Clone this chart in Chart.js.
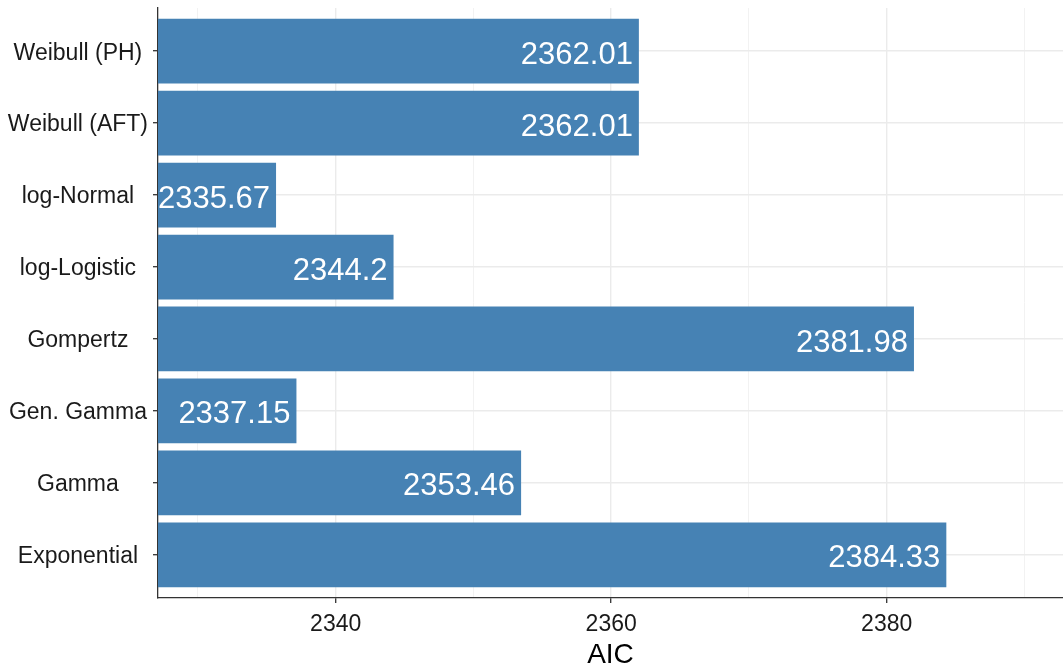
<!DOCTYPE html>
<html>
<head>
<meta charset="utf-8">
<script src="https://cdn.jsdelivr.net/npm/chart.js@4.4.1/dist/chart.umd.min.js"></script>
<style>
  html, body { margin: 0; padding: 0; background: #fff; }
  #wrap { width: 1063px; height: 670px; }
</style>
</head>
<body>
<div id="wrap"><canvas id="aicChart" width="1063" height="670"></canvas></div>
<script>
// modelos de arriba hacia abajo, tal como aparecen
const models = ['Weibull (PH)', 'Weibull (AFT)', 'log-Normal', 'log-Logistic', 'Gompertz', 'Gen. Gamma', 'Gamma', 'Exponential'];
const aic = [2362.01, 2362.01, 2335.67, 2344.2, 2381.98, 2337.15, 2353.46, 2384.33];
const xTicks = [2330, 2340, 2350, 2360, 2370, 2380, 2390];
const xLabelled = [2340, 2360, 2380];

const FONT = '"Liberation Sans", Arial, sans-serif';
const isMajor = v => xLabelled.includes(v);

// etiquetas blancas dentro de cada barra
const barLabels = {
    id: 'barLabels',
    afterDatasetsDraw(chart) {
        const ctx = chart.ctx;
        const meta = chart.getDatasetMeta(0);
        ctx.save();
        ctx.font = '31px ' + FONT;
        ctx.fillStyle = '#ffffff';
        ctx.textAlign = 'right';
        ctx.textBaseline = 'middle';
        meta.data.forEach((bar, i) => {
            ctx.fillText(String(aic[i]), bar.x - 6, bar.y + 4);
        });
        ctx.restore();
    }
};

new Chart(document.getElementById('aicChart').getContext('2d'), {
    type: 'bar',
    data: {
        datasets: [{
            data: aic.map((v, i) => ({ x: v, y: models.length - i })),
            backgroundColor: '#4682B4',
            borderWidth: 0,
            barPercentage: 0.9,
            categoryPercentage: 1.0
        }]
    },
    options: {
        indexAxis: 'y',
        responsive: false,
        animation: false,
        layout: { padding: { top: 8, right: 0, left: 0, bottom: 0 } },
        plugins: {
            legend: { display: false },
            tooltip: { enabled: false }
        },
        scales: {
            x: {
                type: 'linear',
                min: 2327.1,
                max: 2392.8,
                afterBuildTicks: s => { s.ticks = xTicks.map(v => ({ value: v })); },
                afterFit: s => { s.height = 72; s.paddingLeft = 0; s.paddingRight = 0; },
                border: { color: '#333333', width: 1.3 },
                grid: {
                    color: c => (c.tick && isMajor(c.tick.value)) ? '#ebebeb' : '#f2f2f2',
                    lineWidth: c => (c.tick && isMajor(c.tick.value)) ? 1.4 : 1,
                    tickColor: c => (c.tick && isMajor(c.tick.value)) ? '#333333' : 'rgba(0,0,0,0)',
                    tickLength: 5,
                    tickWidth: 1.3
                },
                ticks: {
                    autoSkip: false,
                    maxRotation: 0,
                    padding: 8,
                    color: '#1a1a1a',
                    font: { family: FONT, size: 23 },
                    callback: v => isMajor(v) ? String(v) : ''
                },
                title: {
                    display: true,
                    text: 'AIC',
                    color: '#000000',
                    font: { family: FONT, size: 28 },
                    padding: { top: 0, bottom: -2 }
                }
            },
            y: {
                type: 'linear',
                min: 0.4,
                max: models.length + 0.6,
                offset: false,
                afterBuildTicks: s => { s.ticks = models.map((m, i) => ({ value: i + 1 })); },
                afterFit: s => { s.width = 158; s.paddingTop = 0; s.paddingBottom = 0; },
                border: { color: '#333333', width: 1.3 },
                grid: {
                    offset: false,
                    color: '#ebebeb',
                    lineWidth: 1.4,
                    tickColor: '#333333',
                    tickLength: 5,
                    tickWidth: 1.3
                },
                ticks: {
                    autoSkip: false,
                    crossAlign: 'center',
                    padding: 5,
                    labelOffset: 2,
                    color: '#1a1a1a',
                    font: { family: FONT, size: 23 },
                    callback: v => models[models.length - v]
                }
            }
        }
    },
    plugins: [barLabels]
});
</script>
</body>
</html>
